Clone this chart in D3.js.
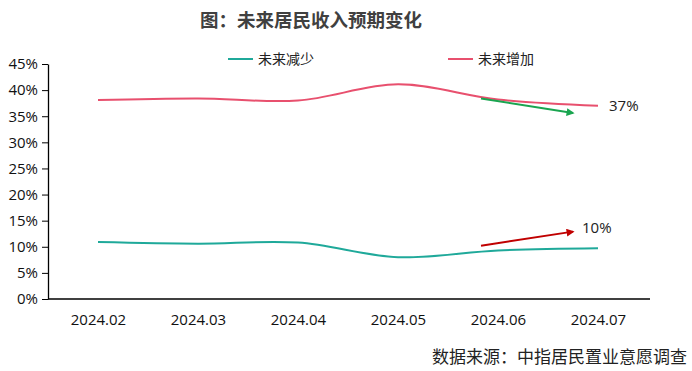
<!DOCTYPE html>
<html>
<head>
<meta charset="utf-8">
<script src="https://cdn.jsdelivr.net/npm/d3@7"></script>
<style>
  body { margin: 0; background: #fff; }
  svg { display: block; font-family: "Noto Sans CJK SC", "Open Sans", sans-serif; }
</style>
</head>
<body>
<div id="chart"></div>
<script>
(function(){
    // data
    const months = ["2024.02", "2024.03", "2024.04", "2024.05", "2024.06", "2024.07"];
    const decrease = [10.9, 10.6, 10.8, 8.0, 9.3, 9.7];   // 未来减少
    const increase = [38.1, 38.4, 38.0, 41.1, 38.2, 37.0]; // 未来增加
    const yTicks = [0, 5, 10, 15, 20, 25, 30, 35, 40, 45];
    const seriesNames = ["未来减少", "未来增加"];
    const endLabels = ["10%", "37%"];

    const width = 692, height = 371;
    const colors = ["#1fa99a", "#e8506e"];
    const tickFont = "Liberation Sans Narrow, Open Sans, sans-serif";

    const svg = d3.select("#chart").append("svg")
        .attr("width", width).attr("height", height);

    const x = d3.scalePoint().domain(months).range([48, 648]).padding(0.5);
    const y = d3.scaleLinear().domain([0, 45]).range([299, 64]);

    // title
    svg.append("text")
        .attr("x", 311).attr("y", 27)
        .attr("text-anchor", "middle")
        .attr("font-size", 18.5).attr("font-weight", "bold")
        .attr("fill", "#404040")
        .text("图：未来居民收入预期变化");

    // y axis
    const yAxis = svg.append("g")
        .attr("transform", "translate(48,0)")
        .call(d3.axisLeft(y).tickValues(yTicks).tickSize(6).tickSizeOuter(0).tickFormat(d => d + "%"));
    yAxis.select(".domain").attr("stroke", "#000").attr("stroke-width", 1.3);
    yAxis.selectAll(".tick line").attr("stroke", "#000");
    yAxis.selectAll(".tick text").attr("font-size", 15).attr("fill", "#111")
        .attr("font-family", tickFont).attr("x", -10);

    // x axis
    const xAxis = svg.append("g")
        .attr("transform", "translate(0,299)")
        .call(d3.axisBottom(x).tickSize(0).tickSizeOuter(0));
    xAxis.select(".domain").attr("d", "M48,0H650").attr("stroke", "#000").attr("stroke-width", 1.3);
    xAxis.selectAll(".tick text").attr("font-size", 15).attr("fill", "#111")
        .attr("font-family", tickFont).attr("dy", "1.55em");

    // lines
    const line = d3.line()
        .x((d, i) => x(months[i]))
        .y(d => y(d))
        .curve(d3.curveCatmullRom.alpha(0.5));

    [decrease, increase].forEach((vals, k) => {
        svg.append("path")
            .datum(vals)
            .attr("d", line)
            .attr("fill", "none")
            .attr("stroke", colors[k])
            .attr("stroke-width", 2);
    });

    // end labels
    [decrease, increase].forEach((vals, k) => {
        const last = vals.length - 1;
        svg.append("text")
            .attr("x", k === 0 ? x(months[last]) - 16 : x(months[last]) + 11)
            .attr("y", k === 0 ? y(vals[last]) - 15 : y(vals[last]) + 5)
            .attr("font-size", 15).attr("fill", "#222")
            .attr("font-family", tickFont)
            .text(endLabels[k]);
    });

    // trend arrows
    const defs = svg.append("defs");
    const arrowColors = ["#c00000", "#1aa550"];
    arrowColors.forEach((c, i) => {
        defs.append("marker")
            .attr("id", "arrow" + i)
            .attr("viewBox", "0 0 10 10")
            .attr("refX", 8).attr("refY", 5)
            .attr("markerWidth", 4).attr("markerHeight", 4)
            .attr("orient", "auto")
            .append("path").attr("d", "M0,0L10,5L0,10Z").attr("fill", c);
    });
    // arrows as [start value, end value] drawn between 2024.06 and 2024.07
    const arrows = [
        { from: 10.2, to: 12.9, color: 0 },
        { from: 38.4, to: 35.6, color: 1 }
    ];
    const step = x.step();
    arrows.forEach(a => {
        svg.append("line")
            .attr("x1", x(months[4]) - step * 0.17)
            .attr("y1", y(a.from))
            .attr("x2", x(months[5]) - step * 0.25)
            .attr("y2", y(a.to))
            .attr("stroke", arrowColors[a.color])
            .attr("stroke-width", 2)
            .attr("marker-end", "url(#arrow" + a.color + ")");
    });

    // legend
    const legendX = [228, 448];
    seriesNames.forEach((name, k) => {
        const g = svg.append("g").attr("transform", `translate(${legendX[k]},59)`);
        g.append("line").attr("x1", 0).attr("x2", 25).attr("y1", 0).attr("y2", 0)
            .attr("stroke", colors[k]).attr("stroke-width", 2);
        g.append("text").attr("x", 30).attr("y", 5)
            .attr("font-size", 14).attr("fill", "#222")
            .text(name);
    });

    // source
    svg.append("text")
        .attr("x", 687).attr("y", 363)
        .attr("text-anchor", "end")
        .attr("font-size", 17).attr("fill", "#222")
        .text("数据来源：中指居民置业意愿调查");
})();
</script>
</body>
</html>
